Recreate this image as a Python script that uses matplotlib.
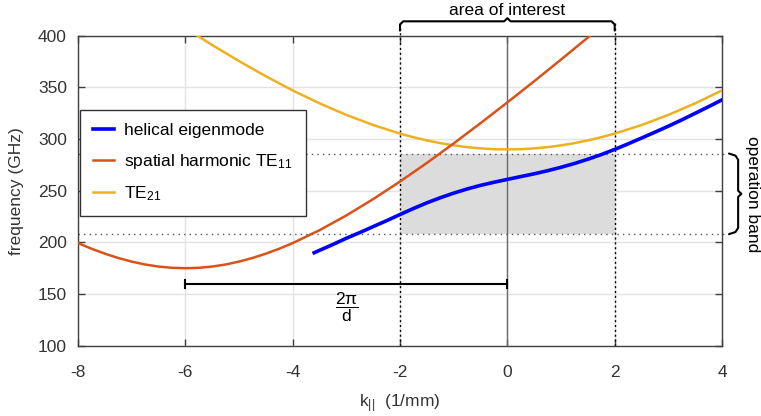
import matplotlib
matplotlib.use('Agg')
import matplotlib.pyplot as plt
import numpy as np
from matplotlib.path import Path
from matplotlib.patches import PathPatch

plt.rcParams['font.family'] = ['Liberation Sans', 'DejaVu Sans']
plt.rcParams['mathtext.fontset'] = 'custom'
plt.rcParams['mathtext.rm'] = 'Liberation Sans'
plt.rcParams['mathtext.it'] = 'Liberation Sans:italic'
plt.rcParams['axes.unicode_minus'] = False

# dispersion curves, k in 1/mm, f in GHz
k_helix = [-3.6, -3.5, -3.25, -3.0, -2.75, -2.5, -2.25, -2.0, -1.75, -1.5, -1.25, -1.0,
           -0.75, -0.5, -0.25, 0.0, 0.25, 0.5, 0.75, 1.0, 1.25, 1.5, 1.75, 2.0,
           2.25, 2.5, 2.75, 3.0, 3.25, 3.5, 3.75, 4.0]
f_helix = [190.0, 192.3, 198.0, 204.0, 209.5, 215.3, 221.0, 227.0, 232.8, 238.3, 243.2, 247.7,
           251.7, 255.2, 258.2, 261.0, 263.7, 266.4, 269.4, 272.7, 276.4, 280.5, 285.0, 290.0,
           295.4, 301.0, 306.7, 312.5, 318.6, 325.0, 331.4, 338.0]

k_te11 = [-8.0, -7.75, -7.5, -7.25, -7.0, -6.75, -6.5, -6.25, -6.0, -5.75, -5.5, -5.25,
          -5.0, -4.75, -4.5, -4.25, -4.0, -3.5, -3.0, -2.5, -2.0, -1.5, -1.0, -0.5,
          0.0, 0.5, 1.0, 1.5, 2.0]
f_te11 = [199.3, 193.9, 189.1, 184.9, 181.4, 178.6, 176.6, 175.4, 175.0, 175.4, 176.6, 178.6,
          181.4, 184.9, 189.1, 193.9, 199.3, 211.8, 226.1, 241.9, 258.9, 276.9, 295.8, 315.4,
          335.5, 356.0, 377.0, 398.3, 419.8]

k_te21 = [-6.0, -5.5, -5.0, -4.5, -4.0, -3.5, -3.0, -2.5, -2.0, -1.75, -1.5, -1.25,
          -1.0, -0.75, -0.5, -0.25, 0.0, 0.25, 0.5, 0.75, 1.0, 1.25, 1.5, 1.75,
          2.0, 2.5, 3.0, 3.5, 4.0]
f_te21 = [407.4, 391.1, 375.5, 360.8, 347.1, 334.6, 323.4, 313.6, 305.3, 301.8, 298.7, 296.1,
          293.9, 292.2, 291.0, 290.2, 290.0, 290.2, 291.0, 292.2, 293.9, 296.1, 298.7, 301.8,
          305.3, 313.6, 323.4, 334.6, 347.1]

band = [208, 286]        # operation band (GHz)
roi = [-2, 2]            # area of interest (1/mm)
period_k = [-6, 0]       # 2pi/d marker
period_f = 160

fs = 12.5

fig = plt.figure(figsize=(7.61, 4.16), dpi=100)
ax = fig.add_axes([0.1025, 0.169, 0.8463, 0.745])

ax.set_xlim(-8, 4)
ax.set_ylim(100, 400)
ax.set_xticks(np.arange(-8, 5, 2))
ax.set_yticks(np.arange(100, 401, 50))
ax.grid(True, color='#e3e3e3', lw=1)
ax.set_axisbelow(True)

# shaded region of interest
ax.fill_between(roi, band[0], band[1], color='#dcdcdc', lw=0, zorder=1)
for f in band:
    ax.plot([-8, 4.05], [f, f], ls=(0, (1, 3)), color='#555555', lw=1, clip_on=False, zorder=2)
for k in roi:
    ax.plot([k, k], [100, 414], ls=(0, (1.5, 2)), color='black', lw=1, clip_on=False, zorder=2)
ax.axvline(0, color='#6a6a6a', lw=1, zorder=2)

ax.plot(k_helix, f_helix, color='#0000ff', lw=2.6, label='helical eigenmode', zorder=5)
ax.plot(k_te11, f_te11, color='#d95319', lw=1.8, label='spatial harmonic TE$_{11}$', zorder=4)
ax.plot(k_te21, f_te21, color='#edb120', lw=1.8, label='TE$_{21}$', zorder=3)

# 2pi/d marker
ax.plot(period_k, [period_f, period_f], color='black', lw=1.5, zorder=6)
for k in period_k:
    ax.plot([k, k], [period_f - 4, period_f + 4], color='black', lw=1.5, zorder=6)
ax.text(np.mean(period_k), period_f - 23, r'$\dfrac{\mathregular{2\pi}}{\mathregular{d}}$',
        ha='center', va='center', fontsize=12.5)

# braces
def brace_path(pts):
    return Path(pts, [Path.MOVETO] + [Path.LINETO] * (len(pts) - 1))

top = [(-2, 405), (-2, 411), (-1.94, 414), (-0.06, 414), (0, 417), (0.06, 414),
       (1.94, 414), (2, 411), (2, 405)]
ax.add_patch(PathPatch(brace_path(top), fill=False, lw=1.5, color='black', clip_on=False,
                       capstyle='round', joinstyle='round'))
ax.text(0, 424, 'area of interest', ha='center', va='center', fontsize=fs)

right = [(4.13, 286), (4.25, 284), (4.3, 280), (4.3, 250), (4.36, 247), (4.3, 244),
         (4.3, 214), (4.25, 210), (4.13, 208)]
ax.add_patch(PathPatch(brace_path(right), fill=False, lw=1.5, color='black', clip_on=False,
                       capstyle='round', joinstyle='round'))
ax.text(4.56, 247, 'operation band', ha='center', va='center', rotation=-90, fontsize=fs)

ax.set_xlabel(r'k$_{||}$  (1/mm)', fontsize=fs, color='#333333', labelpad=9)
ax.set_ylabel('frequency (GHz)', fontsize=fs, color='#333333', labelpad=10)

ax.tick_params(direction='in', length=5, width=1, color='#404040', labelcolor='#333333',
               labelsize=fs, top=True, right=True)
ax.tick_params(axis='x', pad=14)
ax.tick_params(axis='y', pad=8)
for s in ax.spines.values():
    s.set_color('#404040')
    s.set_linewidth(1)

leg = ax.legend(loc='upper left', bbox_to_anchor=(0.003, 0.762), borderaxespad=0, fontsize=fs,
                fancybox=False, edgecolor='#333333', framealpha=1, handlelength=1.2,
                handletextpad=0.6, borderpad=0.75, labelspacing=0.8)
leg.get_frame().set_linewidth(1)

fig.savefig('out.png', dpi=100)
